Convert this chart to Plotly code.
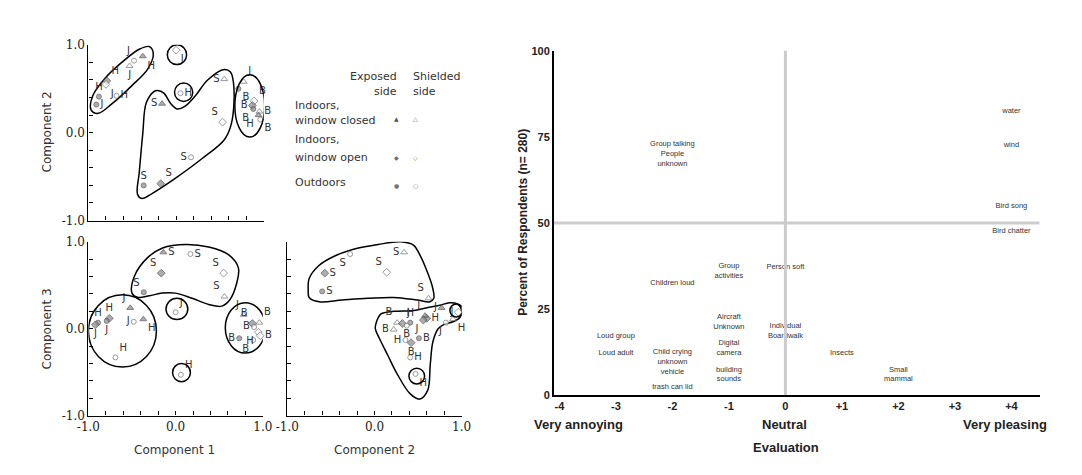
import plotly.graph_objects as go

W, H = 1082, 475

# ---------------- Panel A: Component 1 (x) vs Component 2 (y) ----------------
a_x = [-0.48, -0.38, -0.53, -0.79, -0.80, -0.88, -0.91, -0.68, 0.00, 0.05,
       -0.16, 0.55, 0.53, 0.17, -0.37, -0.175, 0.77, 0.71, 0.89, 0.87, 0.88, 0.95, 0.94, 0.96]
a_y = [0.82, 0.87, 0.76, 0.59, 0.55, 0.41, 0.32, 0.42, 0.94, 0.45,
       0.33, 0.61, 0.12, -0.28, -0.60, -0.58, 0.58, 0.50, 0.36, 0.31, 0.27, 0.24, 0.20, 0.15]
a_lab = ["J", "H", "J", "H", "J", "H", "J", "H", "J", "H",
         "S", "S", "S", "S", "S", "S", "J", "B", "B", "B", "B", "B", "H", "B"]
a_kind = ["c", "t", "t", "d", "d", "c", "c", "c", "d", "c",
          "t", "t", "d", "c", "c", "d", "t", "c", "d", "d", "c", "t", "t", "c"]
a_side = ["s", "e", "s", "e", "s", "e", "e", "s", "s", "s",
          "e", "s", "s", "s", "e", "e", "s", "e", "s", "e", "e", "s", "e", "s"]
a_pos = ["top left", "bottom right", "bottom center", "top right", "bottom right", "top center",
         "middle right", "middle right", "bottom right", "middle right",
         "middle left", "middle left", "top left", "middle left", "top center", "top right",
         "top right", "bottom right", "top right", "middle left", "bottom left", "middle right",
         "bottom left", "bottom right"]
# outlines (component space)
a_left_x = [-0.305, -0.26, -0.32, -0.51, -0.73, -0.89, -0.97, -0.95, -0.81, -0.62, -0.42, -0.305]
a_left_y = [0.98, 0.90, 0.73, 0.53, 0.33, 0.22, 0.26, 0.42, 0.62, 0.80, 0.95, 0.98]
a_blob_x = [-0.25, -0.34, -0.38, -0.42, -0.44, -0.39, -0.27, -0.01, 0.29, 0.55, 0.63, 0.66,
            0.62, 0.55, 0.36, 0.22, 0.10, 0.01, -0.06, -0.14, -0.21, -0.25]
a_blob_y = [0.47, 0.34, -0.01, -0.45, -0.70, -0.75, -0.69, -0.52, -0.30, -0.08, 0.10, 0.51,
            0.69, 0.72, 0.60, 0.42, 0.30, 0.27, 0.33, 0.45, 0.48, 0.47]
a_ell = [(0.67, -0.05, 1.01, 0.66), (-0.10, 0.775, 0.12, 1.0), (-0.018, 0.355, 0.19, 0.565)]

# ---------------- Panel B: Component 1 (x) vs Component 3 (y) ----------------
b_x = [-0.14, 0.17, -0.165, 0.55, -0.365, 0.56, -0.52, -0.37, -0.48, -0.76, -0.79, -0.89,
       -0.92, -0.69, 0.00, 0.06, 0.78, 0.88, 0.96, 0.90, 0.95, 0.97, 0.73, 0.89]
b_y = [0.88, 0.86, 0.64, 0.64, 0.42, 0.37, 0.24, 0.11, 0.08, 0.12, 0.09, 0.07,
       0.045, -0.33, 0.19, -0.53, 0.16, 0.06, 0.07, 0.02, -0.04, -0.08, -0.11, -0.13]
b_lab = ["S", "S", "S", "S", "S", "S", "J", "H", "J", "H", "J", "H",
         "J", "H", "J", "H", "J", "B", "B", "B", "H", "B", "B", "B"]
b_kind = ["t", "c", "d", "d", "c", "t", "t", "t", "c", "d", "c", "c",
          "d", "c", "c", "c", "t", "d", "t", "c", "d", "d", "c", "c"]
b_side = ["e", "s", "e", "s", "e", "s", "e", "e", "s", "e", "e", "e",
          "e", "s", "s", "s", "s", "e", "s", "s", "s", "s", "e", "s"]
b_pos = ["middle right", "middle right", "top left", "top left", "top left", "top left",
         "top left", "bottom right", "middle left", "top center", "bottom center", "top center",
         "bottom center", "top right", "top right", "top right", "top left", "top left",
         "top right", "middle left", "bottom left", "middle right", "middle left", "bottom left"]
b_blob_x = [-0.50, -0.47, -0.33, -0.15, 0.12, 0.38, 0.61, 0.72, 0.70, 0.62, 0.53, 0.38,
            0.19, 0.0, -0.15, -0.30, -0.43, -0.50]
b_blob_y = [0.41, 0.61, 0.81, 0.93, 0.97, 0.94, 0.85, 0.70, 0.52, 0.33, 0.26, 0.28,
            0.35, 0.41, 0.41, 0.38, 0.36, 0.41]
b_ell = [(-1.0, -0.44, -0.22, 0.39), (0.57, -0.28, 1.03, 0.30),
         (-0.11, 0.105, 0.14, 0.35), (-0.035, -0.61, 0.17, -0.40)]

# ---------------- Panel C: Component 2 (x) vs Component 3 (y) ----------------
c_x = [-0.28, 0.34, -0.57, 0.14, -0.60, 0.62, 0.77, 0.96, 0.90, 0.82, 0.60, 0.58,
       0.41, 0.26, 0.32, 0.37, 0.22, 0.355, 0.51, 0.42, 0.41, 0.47, 0.56]
c_y = [0.86, 0.88, 0.64, 0.65, 0.43, 0.35, 0.24, 0.19, 0.11, 0.07, 0.12, 0.15,
       0.07, 0.07, 0.06, 0.035, -0.01, -0.13, -0.11, -0.16, -0.33, -0.52, 0.10]
c_lab = ["S", "S", "S", "S", "S", "S", "J", "J", "H", "J", "H", "J",
         "H", "B", "J", "B", "B", "H", "B", "B", "H", "H", "J"]
c_kind = ["c", "t", "d", "d", "c", "t", "t", "d", "t", "c", "d", "t",
          "c", "t", "d", "c", "t", "c", "c", "d", "c", "c", "d"]
c_side = ["s", "s", "e", "s", "e", "s", "e", "s", "s", "s", "e", "e",
          "e", "s", "e", "s", "s", "s", "e", "e", "s", "s", "e"]
c_pos = ["bottom left", "middle left", "middle right", "top left", "middle right", "top left",
         "middle left", "middle left", "bottom right", "bottom left", "middle right", "top left",
         "top center", "top left", "top right", "bottom center", "middle left", "middle left",
         "middle right", "bottom center", "middle right", "bottom right", "bottom left"]
c_up_x = [-0.76, -0.75, -0.64, -0.45, -0.22, 0.04, 0.30, 0.45, 0.52, 0.60, 0.665, 0.68,
          0.635, 0.49, 0.22, -0.075, -0.37, -0.635, -0.75, -0.76]
c_up_y = [0.445, 0.575, 0.725, 0.84, 0.92, 0.97, 1.0, 0.96, 0.85, 0.67, 0.48, 0.35,
          0.31, 0.33, 0.36, 0.35, 0.33, 0.31, 0.36, 0.445]
c_lo_x = [0.02, 0.075, 0.22, 0.45, 0.64, 0.75, 0.86, 0.95, 1.0, 0.98, 0.90, 0.80, 0.73,
          0.67, 0.64, 0.61, 0.52, 0.41, 0.26, 0.15, 0.056, 0.01, 0.02]
c_lo_y = [0.07, 0.17, 0.20, 0.21, 0.25, 0.27, 0.30, 0.285, 0.21, 0.13, 0.08, 0.05, 0.0,
          -0.15, -0.41, -0.71, -0.81, -0.75, -0.52, -0.30, -0.11, 0.0, 0.07]
c_ell = [(0.865, 0.135, 1.015, 0.285), (0.395, -0.635, 0.575, -0.455)]

# ---------------- Right chart: sound sources ----------------
snd_lab = ["Group talking<br>People<br>unknown", "water", "wind", "Bird song", "Bird chatter",
           "Group<br>activities", "Person soft", "Children loud", "Aircraft<br>Unknown",
           "Individual<br>Boardwalk", "Loud group", "Loud adult",
           "Child crying<br>unknown<br>vehicle", "Digital<br>camera", "building<br>sounds",
           "trash can lid", "Insects", "Small<br>mammal"]
snd_eval = [-2, 4, 4, 4, 4, -1, 0, -2, -1, 0, -3, -3, -2, -1, -1, -2, 1, 2]
snd_pct = [70, 82.5, 72.6, 55, 47.5, 36, 37.3, 32.5, 21.2, 18.6, 17.2, 12.1, 9.6, 13.6, 6, 2.3, 12.1, 6]
eval_ticks = [-4, -3, -2, -1, 0, 1, 2, 3, 4]
eval_text = ["-4", "-3", "-2", "-1", "0", "+1", "+2", "+3", "+4"]
pct_ticks = [0, 25, 50, 75, 100]

comp_ticks = [-1.0, -0.8, -0.6, -0.4, -0.2, 0.0, 0.2, 0.4, 0.6, 0.8, 1.0]
comp_text = ["-1.0", "", "", "", "", "0.0", "", "", "", "", "1.0"]
blank_text = [""] * len(comp_ticks)

SYM = {"t": "triangle-up", "d": "diamond", "c": "circle"}
SIZE = {"t": 6, "d": 6, "c": 5}

fig = go.Figure()


def add_points(xs, ys, labs, kinds, sides, poss, xa, ya):
    fig.add_trace(go.Scatter(
        x=xs, y=ys, text=labs, mode="markers+text", textposition=poss,
        xaxis=xa, yaxis=ya, showlegend=False, hoverinfo="skip", cliponaxis=False,
        textfont=dict(family="DejaVu Sans", size=10, color="#333333"),
        marker=dict(symbol=[SYM[k] for k in kinds], size=[SIZE[k] for k in kinds],
                    color=["#8a8a8a" if s == "e" else "white" for s in sides],
                    line=dict(color=["#4a4a4a" if s == "e" else "#707070" for s in sides], width=1)),
    ))


def add_outline(xs, ys, xa, ya):
    fig.add_trace(go.Scatter(
        x=xs, y=ys, mode="lines", line=dict(color="black", width=1.5, shape="spline", smoothing=1.0),
        xaxis=xa, yaxis=ya, showlegend=False, hoverinfo="skip", cliponaxis=False))


def add_ellipses(ells, xr, yr):
    for (x0, y0, x1, y1) in ells:
        fig.add_shape(type="circle", xref=xr, yref=yr, x0=x0, y0=y0, x1=x1, y1=y1,
                      line=dict(color="black", width=1.5))


add_outline(a_left_x, a_left_y, "x", "y")
add_outline(a_blob_x, a_blob_y, "x", "y")
add_ellipses(a_ell, "x", "y")
add_points(a_x, a_y, a_lab, a_kind, a_side, a_pos, "x", "y")

add_outline(b_blob_x, b_blob_y, "x2", "y2")
add_ellipses(b_ell, "x2", "y2")
add_points(b_x, b_y, b_lab, b_kind, b_side, b_pos, "x2", "y2")

add_outline(c_up_x, c_up_y, "x3", "y3")
add_outline(c_lo_x, c_lo_y, "x3", "y3")
add_ellipses(c_ell, "x3", "y3")
add_points(c_x, c_y, c_lab, c_kind, c_side, c_pos, "x3", "y3")

fig.add_trace(go.Scatter(
    x=snd_eval, y=snd_pct, text=snd_lab, mode="text", textposition="middle center",
    xaxis="x4", yaxis="y4", showlegend=False, hoverinfo="skip", cliponaxis=False,
    textfont=dict(family="Liberation Sans", size=7.5, color="#333333")))

# grey reference lines on the right chart
fig.add_shape(type="line", xref="x4", yref="y4", x0=0, x1=0, y0=0, y1=101,
              line=dict(color="#cccccc", width=3))
fig.add_shape(type="line", xref="x4", yref="y4", x0=-4.1, x1=4.5, y0=50, y1=50,
              line=dict(color="#cccccc", width=3))


def px(v):
    return v / W


def py(v):
    return 1 - v / H


comp_axis = dict(range=[-1, 1], showline=True, linecolor="black", linewidth=1.2, ticks="inside",
                 ticklen=4, tickcolor="black", tickvals=comp_ticks, showgrid=False, zeroline=False,
                 tickfont=dict(family="DejaVu Serif", size=12, color="#222222"), fixedrange=True)

layout_axes = dict(
    xaxis=dict(comp_axis, domain=[px(78), px(257)], anchor="y", ticktext=blank_text),
    yaxis=dict(comp_axis, domain=[py(220), py(39)], anchor="x", ticktext=comp_text),
    xaxis2=dict(comp_axis, domain=[px(78), px(256)], anchor="y2", ticktext=comp_text),
    yaxis2=dict(comp_axis, domain=[py(421), py(242)], anchor="x2", ticktext=comp_text),
    xaxis3=dict(comp_axis, domain=[px(281), px(459)], anchor="y3", ticktext=comp_text),
    yaxis3=dict(comp_axis, domain=[py(421), py(242)], anchor="x3", ticktext=blank_text),
    xaxis4=dict(domain=[px(553), px(1049)], range=[-4.1, 4.5], anchor="y4", showline=True,
                linecolor="black", linewidth=1.5, ticks="", tickvals=eval_ticks, ticktext=eval_text,
                showgrid=False, zeroline=False, fixedrange=True,
                tickfont=dict(family="Liberation Sans", size=11, color="#222222", weight="bold")),
    yaxis4=dict(domain=[py(400), py(45)], range=[0, 100], anchor="x4", showline=True,
                linecolor="black", linewidth=1.5, ticks="", tickvals=pct_ticks,
                showgrid=False, zeroline=False, fixedrange=True,
                tickfont=dict(family="Liberation Sans", size=11, color="#222222", weight="bold")),
)

ann = []


def note(text, x, y, size=11, family="DejaVu Sans", color="#333333", xanchor="center",
         angle=0, bold=False):
    ann.append(dict(text=("<b>%s</b>" % text) if bold else text, x=px(x), y=py(y),
                    xref="paper", yref="paper", showarrow=False, xanchor=xanchor, yanchor="middle",
                    textangle=angle, font=dict(family=family, size=size, color=color)))


# left titles
note("Component 2", 36, 129, size=12, angle=-90)
note("Component 3", 36, 332, size=12, angle=-90)
note("Component 1", 166, 456, size=12)
note("Component 2", 370, 456, size=12)

# legend block
note("Exposed", 395, 72, xanchor="right")
note("side", 395, 87, xanchor="right")
note("Shielded", 407, 72, xanchor="left")
note("side", 407, 87, xanchor="left")
note("Indoors,", 287, 102, xanchor="left")
note("window closed", 287, 117, xanchor="left")
note("Indoors,", 287, 137, xanchor="left")
note("window open", 287, 155, xanchor="left")
note("Outdoors", 287, 181, xanchor="left")
note("▲", 392, 115, size=6, color="#555555")
note("△", 412, 115, size=6, color="#666666")
note("◆", 392, 155, size=6, color="#666666")
note("◇", 412, 155, size=6, color="#666666")
note("●", 392, 184, size=6, color="#777777")
note("○", 412, 184, size=6, color="#777777")

# right chart texts
note("Percent of Respondents (n= 280)", 522, 222, size=12, family="Liberation Sans",
     color="#222222", angle=-90, bold=True)
note("Very annoying", 578, 430, size=13, family="Liberation Sans", color="#222222", bold=True)
note("Neutral", 789, 430, size=13, family="Liberation Sans", color="#222222", bold=True)
note("Very pleasing", 1014, 430, size=13, family="Liberation Sans", color="#222222", bold=True)
note("Evaluation", 790, 454, size=13, family="Liberation Sans", color="#222222", bold=True)

fig.update_layout(
    width=W, height=H, margin=dict(l=0, r=0, t=0, b=0),
    paper_bgcolor="white", plot_bgcolor="white", showlegend=False,
    annotations=ann, **layout_axes)

fig.write_html("out.html")
